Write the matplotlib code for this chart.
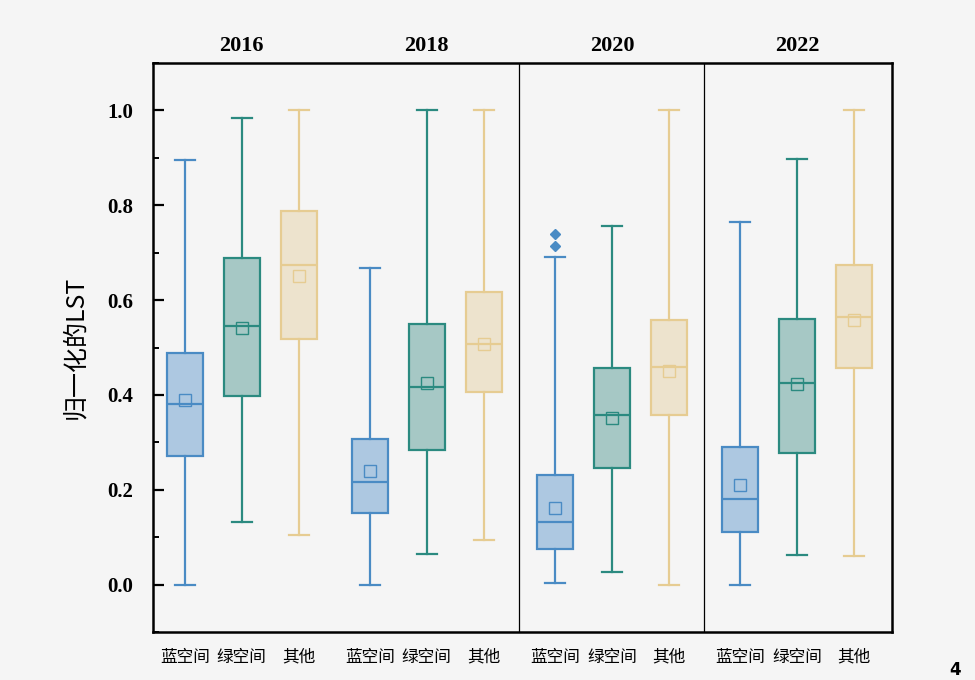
import matplotlib
matplotlib.use("Agg")
import matplotlib.pyplot as plt
from matplotlib.ticker import MultipleLocator

years = ["2016", "2018", "2020", "2022"]
categories = ["蓝空间", "绿空间", "其他"]

# per year: [blue, green, other]
whislo = [[0.000, 0.133, 0.105], [0.000, 0.065, 0.093], [0.004, 0.027, 0.000], [0.000, 0.063, 0.061]]
q1     = [[0.272, 0.397, 0.517], [0.152, 0.283, 0.407], [0.074, 0.245, 0.357], [0.110, 0.278, 0.456]]
med    = [[0.380, 0.546, 0.675], [0.217, 0.416, 0.508], [0.131, 0.357, 0.458], [0.181, 0.426, 0.565]]
q3     = [[0.489, 0.688, 0.787], [0.308, 0.549, 0.618], [0.232, 0.456, 0.559], [0.291, 0.561, 0.673]]
whishi = [[0.895, 0.985, 1.000], [0.667, 1.000, 1.000], [0.690, 0.757, 1.000], [0.764, 0.897, 1.000]]
means  = [[0.390, 0.542, 0.650], [0.240, 0.426, 0.508], [0.162, 0.352, 0.450], [0.209, 0.424, 0.557]]
fliers = [[[], [], []], [[], [], []], [[0.740, 0.715], [], []], [[], [], []]]

edge_colors = ["#4a8bc4", "#2b8a80", "#e6cc92"]
face_colors = ["#adc8e1", "#a6c8c5", "#ede3cd"]
bg = "#f5f5f5"

plt.rcParams['font.family'] = ['Liberation Serif', 'Noto Sans CJK SC', 'DejaVu Sans']

fig = plt.figure(figsize=(9.75, 6.8), dpi=100, facecolor=bg)
ax = fig.add_axes([153/975, 48/680, (892-153)/975, (632-63)/680])
ax.set_facecolor(bg)

group_gap = 3.25
for g in range(len(years)):
    for i in range(len(categories)):
        pos = g * group_gap + i
        st = dict(whislo=whislo[g][i], q1=q1[g][i], med=med[g][i], q3=q3[g][i],
                  whishi=whishi[g][i], mean=means[g][i], fliers=fliers[g][i])
        ec = edge_colors[i]
        ax.bxp([st], positions=[pos], widths=0.63, patch_artist=True,
               showmeans=True, showfliers=True,
               boxprops=dict(facecolor=face_colors[i], edgecolor=ec, linewidth=1.6),
               medianprops=dict(color=ec, linewidth=1.6),
               whiskerprops=dict(color=ec, linewidth=1.6),
               capprops=dict(color=ec, linewidth=1.6),
               capwidths=0.36,
               meanprops=dict(marker='s', markersize=8, markerfacecolor='none',
                              markeredgecolor=ec, markeredgewidth=1.0),
               flierprops=dict(marker='D', markersize=5, markerfacecolor=ec,
                               markeredgecolor=ec))

# separators
for sep in [(1 * group_gap + 2 + 2 * group_gap) / 2, (2 * group_gap + 2 + 3 * group_gap) / 2]:
    ax.axvline(sep, color='black', linewidth=0.9)

ax.set_xlim(-0.56, 3 * group_gap + 2 + 0.67)
ax.set_ylim(-0.1, 1.1)

xt = [g * group_gap + i for g in range(len(years)) for i in range(len(categories))]
ax.set_xticks(xt)
ax.set_xticklabels(categories * len(years), fontfamily=['Noto Sans CJK SC'], fontsize=12)
ax.tick_params(axis='x', length=0, pad=12)

ax.yaxis.set_major_locator(MultipleLocator(0.2))
ax.yaxis.set_minor_locator(MultipleLocator(0.1))
ax.set_yticks([0.0, 0.2, 0.4, 0.6, 0.8, 1.0])
ax.set_yticklabels([f"{v:.1f}" for v in [0.0, 0.2, 0.4, 0.6, 0.8, 1.0]], fontweight='bold', fontsize=15)
ax.tick_params(axis='y', which='major', direction='in', length=8, width=1.6, pad=14)
ax.tick_params(axis='y', which='minor', direction='in', length=4, width=1.4)

for s in ax.spines.values():
    s.set_linewidth(1.8)

ax.set_ylabel("归一化的LST", fontfamily=['Noto Sans CJK SC', 'DejaVu Sans'], fontsize=18, labelpad=14)

for g, y in enumerate(years):
    ax.text(g * group_gap + 1, 1.115, y, ha='center', va='bottom', fontweight='bold',
            fontsize=16, transform=ax.transData)

fig.text(955/975, 1 - 670/680, "4", ha='center', va='center', fontfamily='DejaVu Sans',
         fontweight='bold', fontsize=12)

fig.savefig("out.png", dpi=100, facecolor=bg)
